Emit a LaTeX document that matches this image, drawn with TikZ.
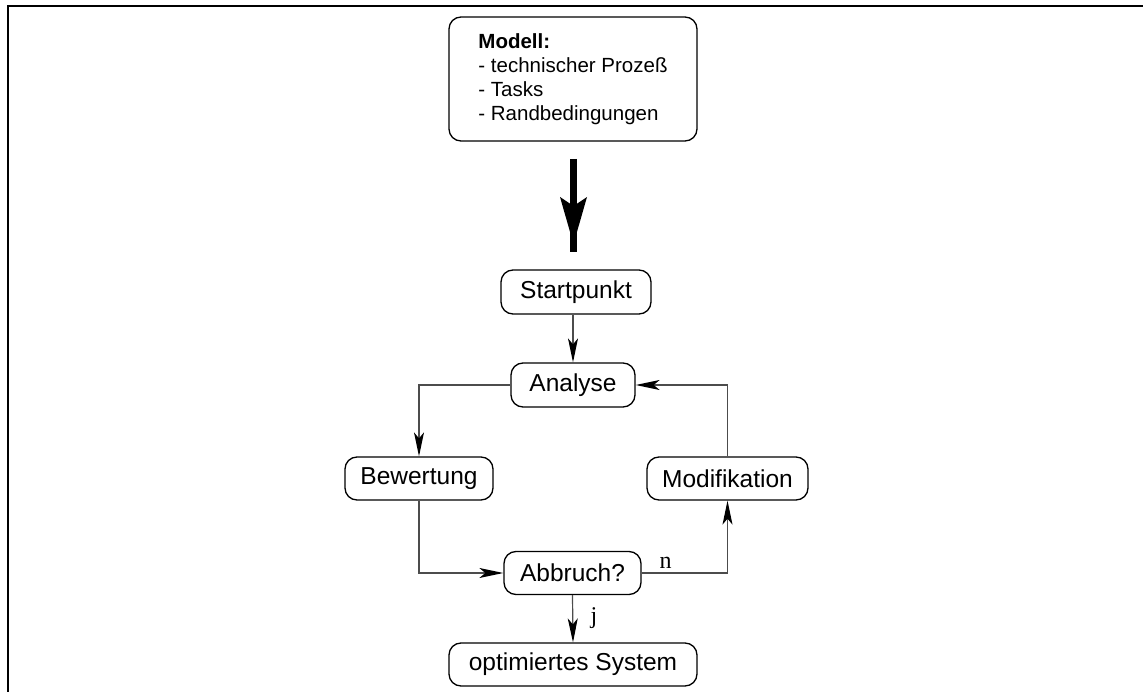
\documentclass[tikz,border=0pt]{standalone}
\usepackage{fontspec}
\setmainfont{Liberation Sans}
\newfontfamily\labelfont{Liberation Serif}
\usetikzlibrary{arrows.meta}

\tikzset{
  box/.style={draw=black, line width=1.3pt, rounded corners=12pt, inner sep=0pt,
              minimum height=43pt, font=\fontsize{24.5}{28}\selectfont},
  flow/.style={draw=black!70, line width=1.2pt,
               -{Stealth[length=24pt, width=10pt, inset=6pt, color=black]}},
  branch/.style={font=\labelfont\fontsize{24}{28}\selectfont, inner sep=0pt, anchor=base}
}

\begin{document}
\begin{tikzpicture}[x=1pt, y=-1pt]
  \useasboundingbox (0,0) rectangle (1143,692);

  % frame
  \draw[line width=2.5pt] (8,692) -- (8,6) -- (1143,6);

  % model description
  \node[box, minimum width=248pt, minimum height=124pt, align=left,
        font=\fontsize{20.5}{24}\selectfont] (modell) at (573,79)
    {\textbf{Modell:}\\- technischer Prozeß\\- Tasks\\- Randbedingungen};

  % flow chart nodes
  \node[box, minimum width=150pt, minimum height=44pt] (start) at (576,292) {Startpunkt};
  \node[box, minimum width=124pt, minimum height=44pt] (analyse) at (573,385) {Analyse};
  \node[box, minimum width=148pt] (bewertung) at (419,478.5) {Bewertung};
  \node[box, minimum width=161pt] (modifikation) at (727.5,478.5) {Modifikation};
  \node[box, minimum width=137pt] (abbruch) at (572.5,573) {Abbruch?};
  \node[box, minimum width=248pt] (system) at (573,664.5) {optimiertes System};

  % thick arrow from the model to the start point
  \coordinate (ttop) at (573.5,159);
  \coordinate (tbot) at (573.5,252);
  \draw[line width=7pt] (ttop) -- (tbot);
  \fill (560,197) -- (573.5,206) -- (587,197) -- (573.5,244) -- cycle;

  % connectors
  \draw[flow] (analyse.north |- start.south) -- (analyse.north);
  \draw[flow] (analyse.west) -| (bewertung.north);
  \draw[flow] (modifikation.north) |- (analyse.east);
  \draw[flow] (bewertung.south) |- (abbruch.west);
  \draw[flow] (abbruch.east) -| (modifikation.south);
  \draw[flow] (abbruch.south) -- (system.north);

  % branch labels
  \node[branch] (lbln) at (665.5,568) {n};
  \node[branch] (lblj) at (594,623) {j};
\end{tikzpicture}
\end{document}
